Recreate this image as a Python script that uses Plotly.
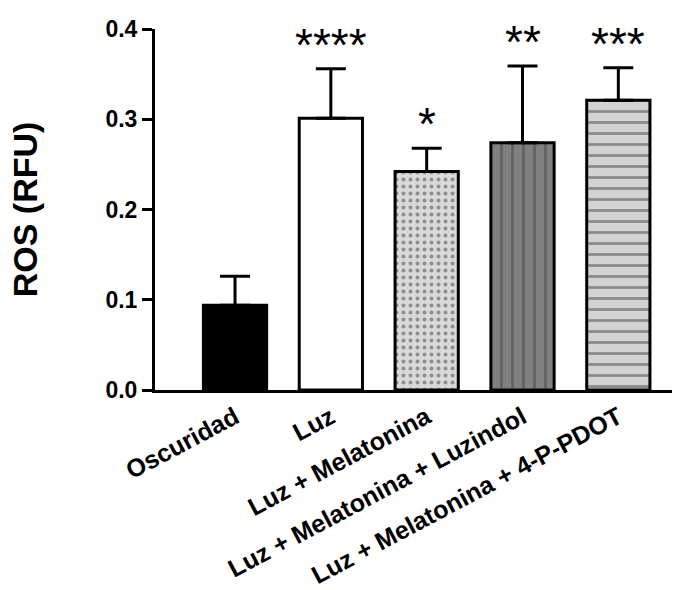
import plotly.graph_objects as go

categories = ["Oscuridad", "Luz", "Luz + Melatonina", "Luz + Melatonina + Luzindol", "Luz + Melatonina + 4-P-PDOT"]
values = [0.094, 0.301, 0.242, 0.274, 0.321]
errors = [0.032, 0.055, 0.026, 0.085, 0.036]
stars = ["", "****", "*", "**", "***"]
fill_colors = ["#000000", "#ffffff", "#d9d9d9", "#808080", "#d3d3d3"]
pattern_shapes = ["", "", ".", "|", "-"]
pattern_sizes = [8, 8, 7, 11, 11]
y_ticks = [0.0, 0.1, 0.2, 0.3, 0.4]

FONT = "Liberation Sans, Arial, sans-serif"

fig = go.Figure()
fig.add_trace(go.Bar(
    x=list(range(len(categories))),
    y=values,
    width=0.66,
    marker=dict(
        color=fill_colors,
        line=dict(color="black", width=3),
        pattern=dict(shape=pattern_shapes, fgcolor="black", bgcolor=fill_colors,
                     size=pattern_sizes, solidity=0.25),
    ),
    error_y=dict(type="data", array=errors, arrayminus=[0] * len(errors), symmetric=False,
                 color="black", thickness=3, width=15),
    showlegend=False,
))

for i, s in enumerate(stars):
    if s:
        fig.add_annotation(x=i, y=values[i] + errors[i], text=s, showarrow=False,
                           yanchor="bottom", yshift=-4,
                           font=dict(family=FONT, size=46, color="black"))

fig.update_layout(
    width=689, height=590,
    margin=dict(l=155, r=17, t=29, b=200),
    plot_bgcolor="white", paper_bgcolor="white",
)
fig.update_xaxes(
    range=[-0.835, 4.56],
    tickmode="array", tickvals=list(range(len(categories))), ticktext=categories,
    tickangle=-28, automargin=False,
    tickfont=dict(family=FONT, size=25, color="black", weight="bold"),
    showline=True, linecolor="black", linewidth=3,
    ticks="", showgrid=False, zeroline=False,
)
fig.update_yaxes(
    range=[0, 0.4], automargin=False,
    tickmode="array", tickvals=y_ticks, ticktext=[f"{v:.1f}" for v in y_ticks],
    tickfont=dict(family=FONT, size=23, color="black", weight="bold"),
    showline=True, linecolor="black", linewidth=3,
    ticks="outside", ticklen=10, tickwidth=3, tickcolor="black",
    showgrid=False, zeroline=False,
    title=dict(text="ROS (RFU)", font=dict(family=FONT, size=34, color="black", weight="bold"),
               standoff=58),
)

fig.write_html("out.html")
